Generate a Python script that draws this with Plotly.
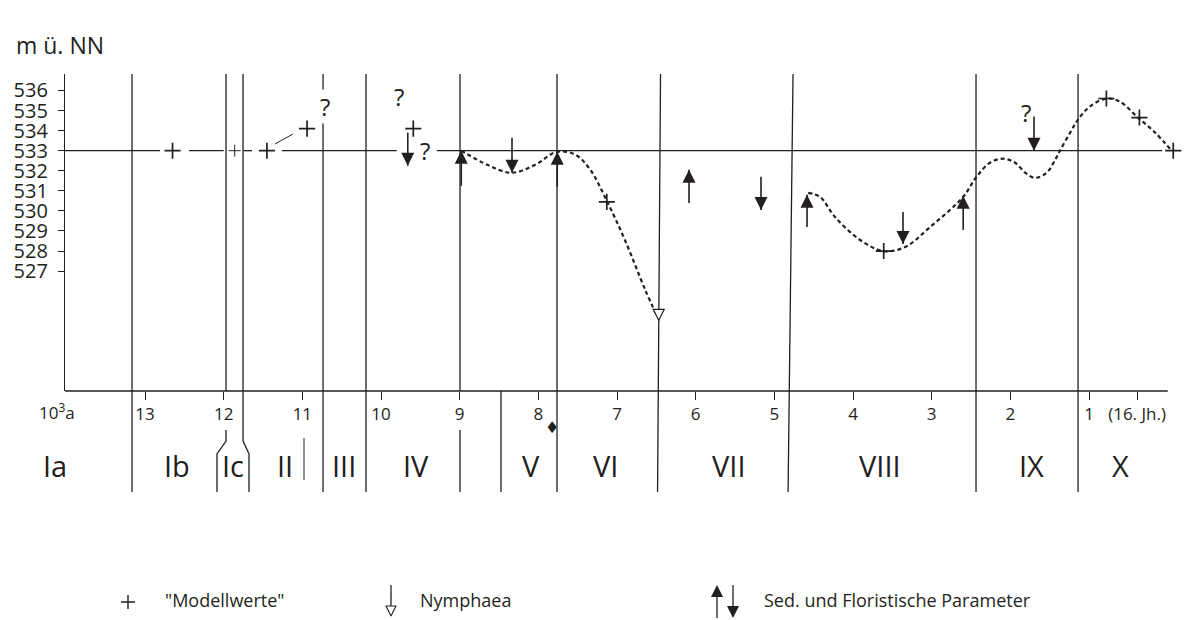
import plotly.graph_objects as go

# ---------------- data (x: 10^3 years BP, y: lake level m ü. NN) ----------------
model_ka = [12.65, 11.45, 10.94, 9.59, 7.13, 3.61, 0.78, 0.36, -0.07]
model_lvl = [533.0, 533.0, 534.1, 534.1, 530.45, 528.0, 535.6, 534.65, 533.0]
model_small_ka = [11.86]
model_small_lvl = [533.0]

curve1_ka = [8.98, 8.65, 8.34, 8.04, 7.76, 7.53, 7.34, 7.13, 6.90, 6.64, 6.49]
curve1_lvl = [533.0, 532.3, 531.9, 532.3, 532.95, 532.8, 532.05, 530.5, 528.55, 526.05, 524.75]

curve2_ka = [4.57, 4.42, 4.23, 3.91, 3.61, 3.34, 3.02, 2.60, 2.44, 2.26, 2.09, 1.94, 1.81,
             1.69, 1.54, 1.43, 1.37, 1.24, 1.14, 0.99, 0.78, 0.61, 0.38, 0.16, -0.05]
curve2_lvl = [530.9, 530.7, 529.7, 528.55, 528.0, 528.2, 529.2, 530.7, 531.65, 532.4, 532.6,
              532.4, 531.9, 531.65, 531.9, 532.55, 533.0, 533.9, 534.55, 535.2, 535.6, 535.45,
              534.65, 533.9, 533.0]

up_ka = [8.98, 7.76, 6.085, 4.585, 2.60]
up_tip = [533.0, 532.95, 532.05, 530.8, 530.75]
up_tail = [531.25, 531.2, 530.4, 529.2, 529.05]

down_ka = [9.66, 8.335, 5.17, 3.365, 1.70]
down_tail = [533.9, 533.65, 531.7, 529.95, 534.7]
down_tip = [532.25, 531.9, 530.05, 528.35, 533.0]

nymph_ka = [6.47]
nymph_lvl = [524.55]

question_ka = [10.71, 9.77, 9.44, 1.80]
question_lvl = [535.2, 535.7, 533.0, 534.9]

connector_ka = [11.35, 11.12]
connector_lvl = [533.33, 533.83]

level_ref = 533.0
level_seg_start = [14.017, 12.44, 11.75, 11.26, 9.29]
level_seg_end = [12.81, 12.00, 11.64, 9.80, 0.07]

zone_top_ka = [13.165, 10.737, 10.191, 7.763, 6.447, 4.763, 2.437, 1.14]
zone_bot_ka = [13.165, 10.737, 10.191, 7.763, 6.485, 4.826, 2.437, 1.14]
ic_left_ka = [11.97, 12.085]
ic_right_ka = [11.754, 11.678]
line9_ka = 8.996
line_below_ka = 8.475
line11_ka = 10.979
diamond_ka = 7.827

zone_names = ["Ib", "Ic", "II", "III", "IV", "V", "VI", "VII", "VIII", "IX", "X"]
zone_label_ka = [12.593, 11.881, 11.22, 10.47, 9.555, 8.093, 7.153, 5.577, 3.657, 1.738, 0.606]

tick_vals = [13, 12, 11, 10, 9, 8, 7, 6, 5, 4, 3, 2, 1, 0.39]
tick_text = ["13", "12", "11", "10", "9", "8", "7", "6", "5", "4", "3", "2", "1", "(16. Jh.)"]
y_ticks = [527, 528, 529, 530, 531, 532, 533, 534, 535, 536]

# ---------------- layout geometry ----------------
W, H = 1189, 620
ML, MR, MT, MB = 65, 6, 74, 0
X_RANGE = [14.017, -0.194]
Y_RANGE = [521.03, 536.82]
AXIS_PX = 391
PH = H - MT - MB
PW = W - ML - MR


def yp(py):
    return (H - py) / PH


def xp(px):
    return (px - ML) / PW


FONT = "Open Sans"
BLACK = "#231f20"

fig = go.Figure()

# reference level 533 m
lx, ly = [], []
for a, b in zip(level_seg_start, level_seg_end):
    lx += [a, b, None]
    ly += [level_ref, level_ref, None]
fig.add_trace(go.Scatter(x=lx, y=ly, mode="lines", line=dict(color=BLACK, width=1.3),
                         hoverinfo="skip"))
fig.add_trace(go.Scatter(x=connector_ka, y=connector_lvl, mode="lines",
                         line=dict(color=BLACK, width=1), hoverinfo="skip"))

# dotted reconstructed curves
for cx, cy in [(curve1_ka, curve1_lvl), (curve2_ka, curve2_lvl)]:
    fig.add_trace(go.Scatter(x=cx, y=cy, mode="lines",
                             line=dict(color=BLACK, width=2.2, dash="4px,3px",
                                       shape="spline", smoothing=1.0),
                             hoverinfo="skip"))

# arrow shafts
sx, sy = [], []
for k, t0, t1 in zip(up_ka, up_tail, up_tip):
    sx += [k, k, None]
    sy += [t0, t1, None]
for k, t0, t1 in zip(down_ka, down_tail, down_tip):
    sx += [k, k, None]
    sy += [t0, t1, None]
fig.add_trace(go.Scatter(x=sx, y=sy, mode="lines", line=dict(color=BLACK, width=1.6),
                         hoverinfo="skip"))
fig.add_trace(go.Scatter(x=up_ka, y=up_tip, mode="markers", cliponaxis=False,
                         marker=dict(symbol="arrow-up", size=13, color=BLACK,
                                     line=dict(width=0))))
fig.add_trace(go.Scatter(x=down_ka, y=down_tip, mode="markers", cliponaxis=False,
                         marker=dict(symbol="arrow-down", size=13, color=BLACK,
                                     line=dict(width=0))))

# Nymphaea
fig.add_trace(go.Scatter(x=nymph_ka, y=nymph_lvl, mode="markers", cliponaxis=False,
                         marker=dict(symbol="arrow-down", size=11, color="white",
                                     line=dict(width=1.2, color=BLACK))))

# model values
fig.add_trace(go.Scatter(x=model_ka, y=model_lvl, mode="markers", cliponaxis=False,
                         marker=dict(symbol="cross-thin", size=11.5,
                                     line=dict(width=1.7, color=BLACK))))
fig.add_trace(go.Scatter(x=model_small_ka, y=model_small_lvl, mode="markers",
                         cliponaxis=False,
                         marker=dict(symbol="cross-thin", size=8.5,
                                     line=dict(width=1, color=BLACK))))

# ---------------- legend (own invisible axes) ----------------
fig.add_trace(go.Scatter(x=[128], y=[602], xaxis="x2", yaxis="y2", mode="markers",
                         cliponaxis=False,
                         marker=dict(symbol="cross-thin", size=10,
                                     line=dict(width=1.4, color=BLACK))))
fig.add_trace(go.Scatter(x=[391, 391, None, 717, 717, None, 733, 733],
                         y=[585, 606, None, 618, 590, None, 585, 613],
                         xaxis="x2", yaxis="y2", mode="lines",
                         line=dict(color=BLACK, width=1.3)))
fig.add_trace(go.Scatter(x=[391], y=[616], xaxis="x2", yaxis="y2", mode="markers",
                         cliponaxis=False,
                         marker=dict(symbol="arrow-down", size=10, color="white",
                                     line=dict(width=1.1, color=BLACK))))
fig.add_trace(go.Scatter(x=[717], y=[585], xaxis="x2", yaxis="y2", mode="markers",
                         cliponaxis=False,
                         marker=dict(symbol="arrow-up", size=12, color=BLACK)))
fig.add_trace(go.Scatter(x=[733], y=[618], xaxis="x2", yaxis="y2", mode="markers",
                         cliponaxis=False,
                         marker=dict(symbol="arrow-down", size=12, color=BLACK)))

# ---------------- shapes: zone boundaries ----------------
shapes = []
LW = 1.3
top, axis_y, bot = yp(MT), yp(AXIS_PX), yp(492)


def vline(x0, y0, x1, y1, w=LW):
    shapes.append(dict(type="line", xref="x", yref="paper", x0=x0, y0=y0, x1=x1, y1=y1,
                       line=dict(color=BLACK, width=w), layer="below"))


for t, b in zip(zone_top_ka, zone_bot_ka):
    vline(t, top, b, bot)
# Ic bracket
vline(ic_left_ka[0], top, ic_left_ka[0], axis_y)
shapes.append(dict(type="path", xref="x", yref="paper", layer="below",
                   path=f"M{ic_left_ka[0]},{yp(430)} L{ic_left_ka[0]},{yp(441)} "
                        f"L{ic_left_ka[1]},{yp(454)} L{ic_left_ka[1]},{bot}",
                   line=dict(color=BLACK, width=LW)))
shapes.append(dict(type="path", xref="x", yref="paper", layer="below",
                   path=f"M{ic_right_ka[0]},{top} L{ic_right_ka[0]},{yp(441)} "
                        f"L{ic_right_ka[1]},{yp(454)} L{ic_right_ka[1]},{bot}",
                   line=dict(color=BLACK, width=LW)))
vline(line9_ka, top, line9_ka, axis_y)
vline(line9_ka, yp(430), line9_ka, bot)
vline(line_below_ka, axis_y, line_below_ka, bot)
vline(line11_ka, yp(438), line11_ka, yp(480), w=1.0)
# x axis line (ends at present)
shapes.append(dict(type="line", xref="x", yref="paper", x0=X_RANGE[0], x1=0.0,
                   y0=axis_y, y1=axis_y, line=dict(color=BLACK, width=1.3), layer="below"))

# ---------------- annotations ----------------
ann = []
for k, v in zip(question_ka, question_lvl):
    ann.append(dict(x=k, y=v, xref="x", yref="y", text="?", showarrow=False,
                    xanchor="center", yanchor="middle",
                    font=dict(size=24, color=BLACK, family=FONT), bgcolor="white",
                    borderpad=0))
ann.append(dict(x=xp(14), y=yp(45), xref="paper", yref="paper", text="m ü. NN",
                showarrow=False, xanchor="left", yanchor="middle",
                font=dict(size=23, color=BLACK, family=FONT)))
ann.append(dict(x=xp(57), y=yp(411), xref="paper", yref="paper", text="10<sup>3</sup>a",
                showarrow=False, xanchor="center", yanchor="middle",
                font=dict(size=17, color=BLACK, family=FONT)))
ann.append(dict(x=xp(55), y=yp(465), xref="paper", yref="paper", text="Ia",
                showarrow=False, xanchor="center", yanchor="middle",
                font=dict(size=29, color=BLACK, family=FONT)))
for name, k in zip(zone_names, zone_label_ka):
    ann.append(dict(x=k, y=yp(465), xref="x", yref="paper", text=name, showarrow=False,
                    xanchor="center", yanchor="middle",
                    font=dict(size=29, color=BLACK, family=FONT)))
ann.append(dict(x=diamond_ka, y=yp(428), xref="x", yref="paper", text="♦",
                showarrow=False, xanchor="center", yanchor="middle",
                font=dict(size=16, color=BLACK, family="DejaVu Sans")))
for px, txt in [(163, '"Modellwerte"'), (418, "Nymphaea"),
                (762, "Sed. und Floristische Parameter")]:
    ann.append(dict(x=px, y=600, xref="x2", yref="y2", text=txt, showarrow=False,
                    xanchor="left", yanchor="middle",
                    font=dict(size=18, color=BLACK, family=FONT)))

fig.update_layout(
    width=W, height=H,
    margin=dict(l=ML, r=MR, t=MT, b=MB),
    paper_bgcolor="white", plot_bgcolor="white",
    showlegend=False,
    shapes=shapes, annotations=ann,
    font=dict(family=FONT, color=BLACK),
    xaxis=dict(range=X_RANGE, domain=[0, 1], anchor="y", showgrid=False, zeroline=False,
               showline=False, ticks="outside", ticklen=8, tickwidth=1.2,
               tickcolor=BLACK, tickvals=tick_vals, ticktext=tick_text,
               tickfont=dict(size=17, color=BLACK, family=FONT)),
    yaxis=dict(range=Y_RANGE, domain=[yp(AXIS_PX), 1], anchor="x", showgrid=False,
               zeroline=False, showline=True, linecolor=BLACK, linewidth=1.3,
               ticks="outside", ticklen=6, tickwidth=1.2, tickcolor=BLACK,
               tickvals=y_ticks, ticklabelstandoff=6,
               tickfont=dict(size=20, color=BLACK, family=FONT)),
    xaxis2=dict(range=[ML, W - MR], domain=[0, 1], anchor="y2", visible=False),
    yaxis2=dict(range=[H, 555], domain=[0, yp(555)], anchor="x2", visible=False),
)

fig.write_html("out.html", config={"displayModeBar": False},
               post_script="document.body.style.margin='0';"
                           "document.body.style.overflow='hidden';")
